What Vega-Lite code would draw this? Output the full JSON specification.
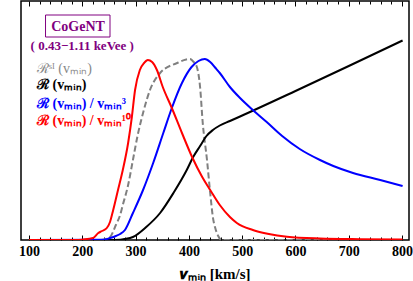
{
  "$schema": "https://vega.github.io/schema/vega-lite/v6.json",
  "width": 388,
  "height": 239,
  "autosize": {"type": "none"},
  "padding": {"left": 21, "top": 1, "right": 4, "bottom": 41},
  "background": "white",
  "config": {"view": {"stroke": "#000", "strokeWidth": 1.5}, "font": "Liberation Serif"},
  "datasets": {
    "curves": [
      {"s": "R", "v": 100, "h": 0}, {"s": "R", "v": 250, "h": 0}, {"s": "R", "v": 271, "h": 0.3}, {"s": "R", "v": 280, "h": 1}, {"s": "R", "v": 295, "h": 3}, {"s": "R", "v": 320, "h": 13}, {"s": "R", "v": 346, "h": 27}, {"s": "R", "v": 371, "h": 47}, {"s": "R", "v": 396, "h": 70}, {"s": "R", "v": 408, "h": 83}, {"s": "R", "v": 421, "h": 94}, {"s": "R", "v": 433, "h": 104}, {"s": "R", "v": 445, "h": 110}, {"s": "R", "v": 458, "h": 114.5}, {"s": "R", "v": 477, "h": 119}, {"s": "R", "v": 496, "h": 123.5}, {"s": "R", "v": 600, "h": 149}, {"s": "R", "v": 700, "h": 174}, {"s": "R", "v": 801, "h": 199.5},
      {"s": "R/v3", "v": 100, "h": 0}, {"s": "R/v3", "v": 240, "h": 0.3}, {"s": "R/v3", "v": 252, "h": 2}, {"s": "R/v3", "v": 263, "h": 4}, {"s": "R/v3", "v": 271, "h": 6}, {"s": "R/v3", "v": 280, "h": 10}, {"s": "R/v3", "v": 295, "h": 27}, {"s": "R/v3", "v": 314, "h": 50}, {"s": "R/v3", "v": 333, "h": 77}, {"s": "R/v3", "v": 352, "h": 107}, {"s": "R/v3", "v": 368, "h": 132}, {"s": "R/v3", "v": 387, "h": 157}, {"s": "R/v3", "v": 405, "h": 173}, {"s": "R/v3", "v": 418, "h": 179}, {"s": "R/v3", "v": 430, "h": 181}, {"s": "R/v3", "v": 440, "h": 178}, {"s": "R/v3", "v": 450, "h": 172}, {"s": "R/v3", "v": 458, "h": 167}, {"s": "R/v3", "v": 477, "h": 153}, {"s": "R/v3", "v": 496, "h": 142}, {"s": "R/v3", "v": 520, "h": 130}, {"s": "R/v3", "v": 546, "h": 118}, {"s": "R/v3", "v": 575, "h": 104}, {"s": "R/v3", "v": 608, "h": 91}, {"s": "R/v3", "v": 646, "h": 80}, {"s": "R/v3", "v": 671, "h": 74}, {"s": "R/v3", "v": 708, "h": 67}, {"s": "R/v3", "v": 759, "h": 60}, {"s": "R/v3", "v": 801, "h": 54},
      {"s": "R/v10", "v": 100, "h": 0}, {"s": "R/v10", "v": 190, "h": 0}, {"s": "R/v10", "v": 201, "h": 0.5}, {"s": "R/v10", "v": 220, "h": 2}, {"s": "R/v10", "v": 230, "h": 7}, {"s": "R/v10", "v": 237, "h": 9}, {"s": "R/v10", "v": 246, "h": 12}, {"s": "R/v10", "v": 252, "h": 18}, {"s": "R/v10", "v": 258, "h": 30}, {"s": "R/v10", "v": 267, "h": 50}, {"s": "R/v10", "v": 276, "h": 70}, {"s": "R/v10", "v": 286, "h": 97}, {"s": "R/v10", "v": 293, "h": 123}, {"s": "R/v10", "v": 299, "h": 150}, {"s": "R/v10", "v": 308, "h": 170}, {"s": "R/v10", "v": 316, "h": 177}, {"s": "R/v10", "v": 323, "h": 180}, {"s": "R/v10", "v": 331, "h": 178}, {"s": "R/v10", "v": 340, "h": 170}, {"s": "R/v10", "v": 351, "h": 153}, {"s": "R/v10", "v": 368, "h": 132}, {"s": "R/v10", "v": 387, "h": 107}, {"s": "R/v10", "v": 406, "h": 83}, {"s": "R/v10", "v": 425, "h": 63}, {"s": "R/v10", "v": 440, "h": 50}, {"s": "R/v10", "v": 458, "h": 35}, {"s": "R/v10", "v": 477, "h": 23}, {"s": "R/v10", "v": 490, "h": 17}, {"s": "R/v10", "v": 520, "h": 10}, {"s": "R/v10", "v": 550, "h": 6}, {"s": "R/v10", "v": 584, "h": 3.3}, {"s": "R/v10", "v": 646, "h": 1.5}, {"s": "R/v10", "v": 721, "h": 0.8}, {"s": "R/v10", "v": 801, "h": 0.5}
    ],
    "grey": [
      {"v": 100, "h": 0}, {"v": 235, "h": 0}, {"v": 252, "h": 3}, {"v": 263, "h": 15}, {"v": 271, "h": 25}, {"v": 276, "h": 35}, {"v": 286, "h": 55}, {"v": 295, "h": 80}, {"v": 304, "h": 105}, {"v": 314, "h": 127}, {"v": 327, "h": 150}, {"v": 346, "h": 167}, {"v": 378, "h": 177}, {"v": 395, "h": 180.5}, {"v": 402, "h": 181}, {"v": 409, "h": 178}, {"v": 415, "h": 173}, {"v": 421, "h": 153}, {"v": 426, "h": 117}, {"v": 434, "h": 80}, {"v": 440, "h": 47}, {"v": 445, "h": 23}, {"v": 450, "h": 11}, {"v": 455, "h": 4}, {"v": 462, "h": 0}, {"v": 800, "h": 0}
    ],
    "box": [{"v1": 131, "v2": 252, "h1": 203, "h2": 225}],
    "purple": [
      {"v": 192, "h": 209, "text": "CoGeNT", "size": "big"},
      {"v": 200, "h": 190, "text": "( 0.43−1.11 keVee )", "size": "small"}
    ],
    "legend": [
      {"s": "R", "v": 115, "h": 151, "text": "ℛ (vₘᵢₙ)"},
      {"s": "R/v3", "v": 115, "h": 132, "text": "ℛ (vₘᵢₙ) / vₘᵢₙ³"},
      {"s": "R/v10", "v": 115, "h": 115, "text": "ℛ (vₘᵢₙ) / vₘᵢₙ¹⁰"}
    ],
    "legendGrey": [
      {"v": 115, "h": 167, "text": "ℛˢᴵ (vₘᵢₙ)"}
    ]
  },
  "resolve": {"axis": {"x": "independent"}},
  "layer": [
    {
      "data": {"name": "grey"},
      "mark": {"type": "line", "color": "#808080", "strokeWidth": 2, "strokeDash": [6, 3], "interpolate": "monotone", "clip": true},
      "encoding": {
        "x": {"field": "v", "type": "quantitative", "scale": {"domain": [85, 813], "nice": false, "zero": false},
          "axis": {"orient": "bottom", "values": [100,120,140,160,180,200,220,240,260,280,300,320,340,360,380,400,420,440,460,480,500,520,540,560,580,600,620,640,660,680,700,720,740,760,780,800],
            "labelExpr": "datum.value % 100 === 0 ? datum.label : ''", "labelOverlap": false, "labelFlush": false,
            "tickSize": {"condition": {"test": "datum.value % 100 === 0", "value": -5}, "value": -3},
            "tickColor": "#000", "tickWidth": 1, "domain": false, "grid": false,
            "labelFont": "Liberation Serif", "labelFontWeight": "bold", "labelFontSize": 14, "labelColor": "#000", "labelPadding": 9,
            "title": "𝒗ₘᵢₙ [km/s]", "titleFont": "Liberation Serif", "titleFontWeight": "bold", "titleFontSize": 15, "titleColor": "#000", "titlePadding": 6}},
        "y": {"field": "h", "type": "quantitative", "scale": {"domain": [0, 239], "nice": false},
          "axis": {"labels": false, "ticks": false, "domain": false, "grid": false,
            "title": "Response function (arbitrary unit)", "titleFont": "Liberation Serif", "titleFontWeight": "bold", "titleFontSize": 13, "titleColor": "#000", "titlePadding": 7}}
      }
    },
    {
      "data": {"name": "curves"},
      "mark": {"type": "line", "strokeWidth": 2, "interpolate": "monotone", "clip": true},
      "encoding": {
        "x": {"field": "v", "type": "quantitative",
          "axis": {"orient": "top", "values": [100,120,140,160,180,200,220,240,260,280,300,320,340,360,380,400,420,440,460,480,500,520,540,560,580,600,620,640,660,680,700,720,740,760,780,800],
            "labels": false, "title": null, "domain": false, "grid": false, "tickColor": "#000", "tickWidth": 1,
            "tickSize": {"condition": {"test": "datum.value % 100 === 0", "value": -5}, "value": -3}}},
        "y": {"field": "h", "type": "quantitative", "axis": null},
        "color": {"field": "s", "type": "nominal", "legend": null,
          "scale": {"domain": ["R", "R/v3", "R/v10"], "range": ["#000000", "#0000ff", "#ff0000"]}},
        "order": {"field": "v", "type": "quantitative"}
      }
    },
    {
      "data": {"name": "box"},
      "mark": {"type": "rect", "fill": null, "stroke": "#800080", "strokeWidth": 1},
      "encoding": {
        "x": {"field": "v1", "type": "quantitative", "axis": null},
        "x2": {"field": "v2"},
        "y": {"field": "h1", "type": "quantitative", "axis": null},
        "y2": {"field": "h2"}
      }
    },
    {
      "data": {"name": "purple"},
      "mark": {"type": "text", "color": "#800080", "font": "Liberation Serif", "fontWeight": "bold", "align": "center", "baseline": "alphabetic"},
      "encoding": {
        "x": {"field": "v", "type": "quantitative", "axis": null},
        "y": {"field": "h", "type": "quantitative", "axis": null},
        "text": {"field": "text"},
        "size": {"field": "size", "type": "nominal", "legend": null, "scale": {"domain": ["big", "small"], "range": [14, 13]}}
      }
    },
    {
      "data": {"name": "legend"},
      "mark": {"type": "text", "font": "Liberation Serif", "fontWeight": "bold", "fontSize": 14, "align": "left", "baseline": "alphabetic"},
      "encoding": {
        "x": {"field": "v", "type": "quantitative", "axis": null},
        "y": {"field": "h", "type": "quantitative", "axis": null},
        "text": {"field": "text"},
        "color": {"field": "s", "type": "nominal", "legend": null}
      }
    },
    {
      "data": {"name": "legendGrey"},
      "mark": {"type": "text", "font": "Liberation Serif", "fontSize": 14, "align": "left", "baseline": "alphabetic", "color": "#888888"},
      "encoding": {
        "x": {"field": "v", "type": "quantitative", "axis": null},
        "y": {"field": "h", "type": "quantitative", "axis": null},
        "text": {"field": "text"}
      }
    }
  ]
}
